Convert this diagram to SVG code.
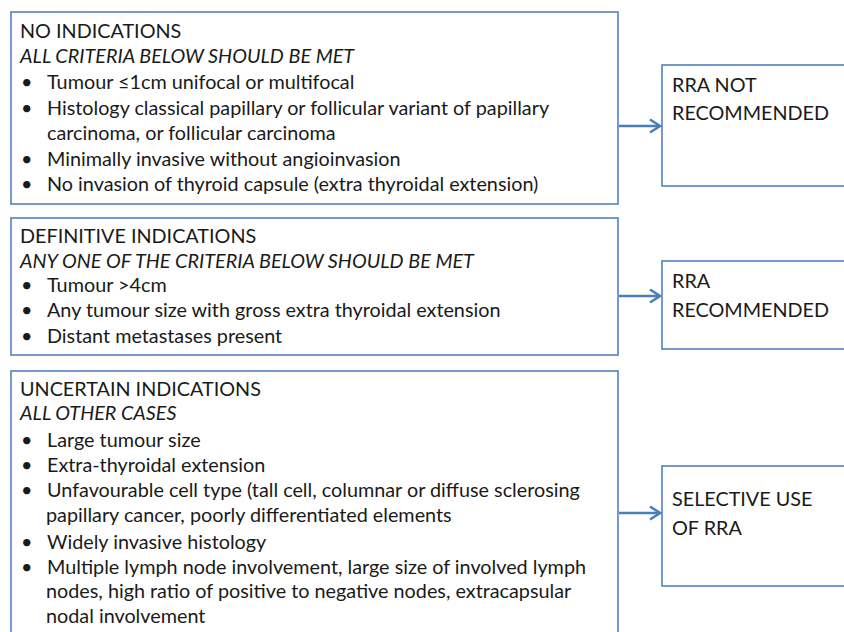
<svg xmlns="http://www.w3.org/2000/svg" width="844" height="632" viewBox="0 0 844 632">
<style>
.box{fill:#fff;stroke:#4F81BD;stroke-width:1.6}
.t{font-family:Lato,"Liberation Sans",sans-serif;font-size:19.8px;fill:#1a1a1a}
.i{font-style:italic}
.conn{stroke:#4A7EBB;stroke-width:2.5;fill:none}
</style>
<defs>
<marker id="ah" markerWidth="14" markerHeight="16" refX="12" refY="8" orient="auto" markerUnits="userSpaceOnUse">
<path d="M2,1.5 L12,8 L2,14.5" fill="none" stroke="#4A7EBB" stroke-width="2.6"/>
</marker>
</defs>
<rect width="844" height="632" fill="#fff"/>
<g id="no-indications">
<rect class="box" x="11" y="12" width="607" height="192"/>
<text class="t" x="20" y="38">NO INDICATIONS</text>
<text class="t i" x="20" y="63">ALL CRITERIA BELOW SHOULD BE MET</text>
<text class="t" x="21" y="89">•</text><text class="t" x="47" y="89">Tumour ≤1cm unifocal or multifocal</text>
<text class="t" x="21" y="115">•</text><text class="t" x="47" y="115">Histology classical papillary or follicular variant of papillary</text>
<text class="t" x="47" y="140">carcinoma, or follicular carcinoma</text>
<text class="t" x="21" y="166">•</text><text class="t" x="47" y="166">Minimally invasive without angioinvasion</text>
<text class="t" x="21" y="191">•</text><text class="t" x="47" y="191">No invasion of thyroid capsule (extra thyroidal extension)</text>
</g>
<g id="definitive-indications">
<rect class="box" x="11" y="218" width="607" height="137"/>
<text class="t" x="20" y="243">DEFINITIVE INDICATIONS</text>
<text class="t i" x="20" y="268">ANY ONE OF THE CRITERIA BELOW SHOULD BE MET</text>
<text class="t" x="21" y="292">•</text><text class="t" x="47" y="292">Tumour &gt;4cm</text>
<text class="t" x="21" y="317">•</text><text class="t" x="47" y="317">Any tumour size with gross extra thyroidal extension</text>
<text class="t" x="21" y="343">•</text><text class="t" x="47" y="343">Distant metastases present</text>
</g>
<g id="uncertain-indications">
<rect class="box" x="11" y="371" width="607" height="280"/>
<text class="t" x="20" y="396">UNCERTAIN INDICATIONS</text>
<text class="t i" x="20" y="420">ALL OTHER CASES</text>
<text class="t" x="21" y="447">•</text><text class="t" x="47" y="447">Large tumour size</text>
<text class="t" x="21" y="472">•</text><text class="t" x="47" y="472">Extra-thyroidal extension</text>
<text class="t" x="21" y="497">•</text><text class="t" x="47" y="497">Unfavourable cell type (tall cell, columnar or diffuse sclerosing</text>
<text class="t" x="46" y="522">papillary cancer, poorly differentiated elements</text>
<text class="t" x="21" y="549">•</text><text class="t" x="47" y="549">Widely invasive histology</text>
<text class="t" x="21" y="574">•</text><text class="t" x="47" y="574">Multiple lymph node involvement, large size of involved lymph</text>
<text class="t" x="46" y="598">nodes, high ratio of positive to negative nodes, extracapsular</text>
<text class="t" x="46" y="623">nodal involvement</text>
</g>
<g id="rra-not-recommended">
<rect class="box" x="662" y="65" width="200" height="121"/>
<text class="t" x="672" y="92">RRA NOT</text>
<text class="t" x="672" y="120">RECOMMENDED</text>
</g>
<g id="rra-recommended">
<rect class="box" x="662" y="261" width="200" height="88"/>
<text class="t" x="672" y="288">RRA</text>
<text class="t" x="672" y="317">RECOMMENDED</text>
</g>
<g id="selective-use">
<rect class="box" x="662" y="466" width="200" height="120"/>
<text class="t" x="672" y="506">SELECTIVE USE</text>
<text class="t" x="672" y="535">OF RRA</text>
</g>
<g id="connectors">
<line class="conn" x1="619" y1="126" x2="660" y2="126" marker-end="url(#ah)"/>
<line class="conn" x1="619" y1="296" x2="660" y2="296" marker-end="url(#ah)"/>
<line class="conn" x1="619" y1="513" x2="660" y2="513" marker-end="url(#ah)"/>
</g>
</svg>
